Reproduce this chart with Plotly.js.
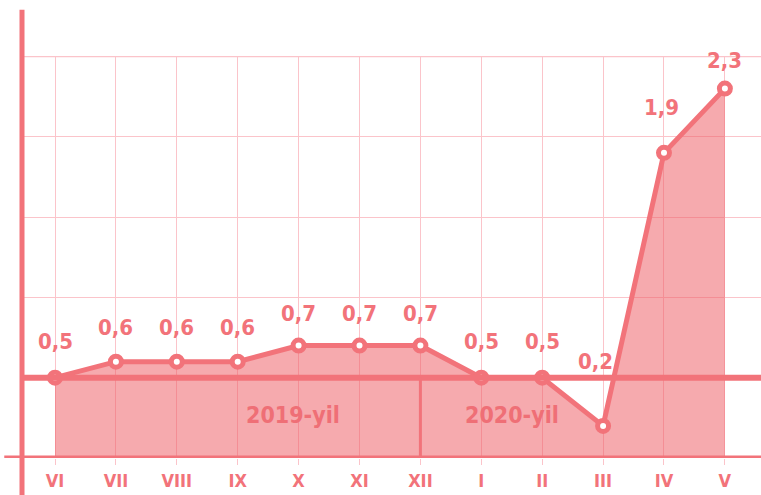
<!DOCTYPE html>
<html>
<head>
<meta charset="utf-8">
<script src="https://cdn.plot.ly/plotly-3.0.1.min.js"></script>
<style>
  html, body { margin: 0; padding: 0; background: #ffffff; }
  #graph { width: 761px; height: 495px; }
</style>
</head>
<body>
<div id="graph"></div>
<script>
// months, June 2019 .. May 2020
var months = ["VI", "VII", "VIII", "IX", "X", "XI", "XII", "I", "II", "III", "IV", "V"];
var values = [0.5, 0.6, 0.6, 0.6, 0.7, 0.7, 0.7, 0.5, 0.5, 0.2, 1.9, 2.3];
var valueLabels = ["0,5", "0,6", "0,6", "0,6", "0,7", "0,7", "0,7", "0,5", "0,5", "0,2", "1,9", "2,3"];
var yearLabels = ["2019-yil", "2020-yil"];
var yearLabelPos = [3.9, 7.5];

// how far each value label sits above its point (pixels)
var labelShift = [36, 34, 34, 34, 32, 32, 32, 36, 36, 64, 45, 28];
var labelXShift = [0, 0, 0, 0, 0, 0, 0, 0, 0, -8, -2, 0];

var lineColor = "#f2737a";
var gridColor = "#fbc4ca";
var fontFam = "'Liberation Sans Narrow', 'DejaVu Sans Condensed', 'Liberation Sans', sans-serif";

function drawGraph() {
    var idx = months.map(function (m, i) { return i; });

    var area = {
        x: idx,
        y: values,
        type: "scatter",
        mode: "lines+markers",
        fill: "tozeroy",
        fillcolor: "rgba(238, 92, 100, 0.52)",
        line: { color: lineColor, width: 5 },
        marker: { size: 11, color: "#ffffff", line: { color: lineColor, width: 5 } },
        cliponaxis: false,
        hoverinfo: "skip"
    };

    /*
    * value labels above every point
    */
    var annotations = values.map(function (v, i) {
        return {
            x: i, y: v, xref: "x", yref: "y",
            text: valueLabels[i],
            showarrow: false,
            yshift: labelShift[i],
            xshift: labelXShift[i],
            font: { family: fontFam, size: 22, color: lineColor, weight: "bold" }
        };
    });
    yearLabels.forEach(function (t, k) {
        annotations.push({
            x: yearLabelPos[k], y: 0.27, xref: "x", yref: "y",
            text: t, showarrow: false,
            font: { family: fontFam, size: 23, color: "#ef6f76", weight: "bold" }
        });
    });

    var shapes = [
        // top grid line
        { type: "line", xref: "paper", yref: "y", x0: 0, x1: 1, y0: 2.5, y1: 2.5,
          line: { color: gridColor, width: 1.5 }, layer: "below" },
        // y axis line
        { type: "line", xref: "paper", yref: "paper", x0: 0, x1: 0, y0: -0.1, y1: 1.115,
          line: { color: lineColor, width: 5 }, layer: "above" },
        // zero line
        { type: "line", xref: "paper", yref: "y", x0: -0.024, x1: 1, y0: 0, y1: 0,
          line: { color: lineColor, width: 5 }, layer: "above" },
        // 0.5 reference line
        { type: "line", xref: "paper", yref: "y", x0: 0, x1: 1, y0: 0.5, y1: 0.5,
          line: { color: lineColor, width: 6 }, layer: "above" },
        // divider between the two years
        { type: "line", xref: "x", yref: "y", x0: 6, x1: 6, y0: 0, y1: 0.5,
          line: { color: lineColor, width: 3 }, layer: "above" }
    ];

    var layout = {
        width: 761,
        height: 495,
        margin: { l: 22, r: 0, t: 56, b: 37 },
        paper_bgcolor: "#ffffff",
        plot_bgcolor: "#ffffff",
        showlegend: false,
        xaxis: {
            range: [-0.542, 11.593],
            tickmode: "array",
            tickvals: idx,
            ticktext: months,
            showgrid: true,
            gridcolor: gridColor,
            gridwidth: 1,
            zeroline: false,
            showline: false,
            ticks: "outside",
            ticklen: 6,
            tickcolor: gridColor,
            tickfont: { family: fontFam, size: 18, color: lineColor, weight: "bold" },
            fixedrange: true
        },
        yaxis: {
            range: [0, 2.503],
            dtick: 0.5,
            showgrid: true,
            gridcolor: gridColor,
            gridwidth: 1,
            zeroline: false,
            showticklabels: false,
            showline: false,
            fixedrange: true
        },
        shapes: shapes,
        annotations: annotations
    };

    Plotly.newPlot("graph", [area], layout, { displayModeBar: false, staticPlot: true });
}

drawGraph();
</script>
</body>
</html>
